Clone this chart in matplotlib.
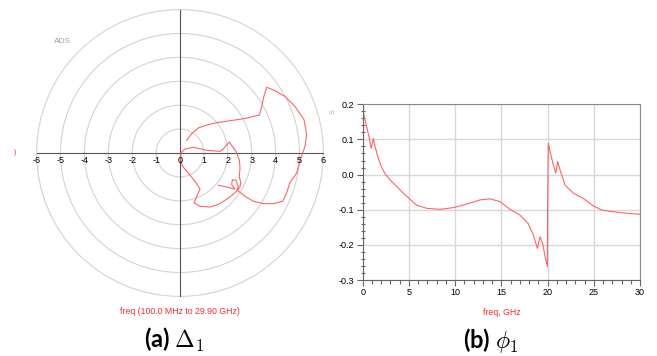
import matplotlib
matplotlib.use("Agg")
import matplotlib.pyplot as plt
from matplotlib.patches import Circle
import numpy as np

plt.rcParams['mathtext.fontset'] = 'cm'

# Delta_1 trace, real / imaginary parts (100 MHz .. 29.9 GHz)
delta_re = [0.28, 0.49, 0.77, 1.19, 1.60, 2.23, 2.79, 3.32, 3.42, 3.49, 3.63, 3.97,
            4.39, 4.81, 5.19, 5.30, 5.23, 5.06, 4.88, 4.60, 4.46, 4.30, 3.91, 3.49,
            3.07, 2.72, 2.40, 2.51, 2.54, 2.48, 2.51, 2.48, 2.34, 2.06, 1.81, 1.67,
            1.12, 0.56, 0.21, 0.03, 0.03, 0.11, 0.35, 0.63, 0.84, 0.70, 0.59, 0.84,
            1.26, 1.67, 2.09, 2.37, 2.44, 2.34, 2.19, 2.16, 2.30, 2.09, 1.81, 1.60]
delta_im = [0.53, 0.81, 1.05, 1.19, 1.28, 1.37, 1.46, 1.59, 1.95, 2.30, 2.75, 2.61,
            2.37, 1.95, 1.39, 0.77, 0.28, -0.21, -0.84, -1.23, -1.67, -2.02, -2.12, -2.12,
            -2.02, -1.81, -1.56, -1.42, -1.23, -0.98, -0.63, -0.28, 0.07, 0.46, 0.17, 0.07,
            0.11, 0.24, 0.17, 0.00, -0.28, -0.56, -0.84, -1.19, -1.51, -1.81, -2.09, -2.23,
            -2.26, -2.12, -1.84, -1.60, -1.39, -1.14, -1.12, -1.32, -1.51, -1.46, -1.39, -1.35]

# phi_1 vs frequency
freq = [0.1, 0.43, 0.72, 0.90, 1.0, 1.15, 1.33, 1.69, 2.05, 2.42, 2.96, 3.68, 4.40,
        5.05, 5.84, 6.92, 8.37, 9.81, 11.25, 12.69, 13.78, 14.86, 15.94, 17.0, 17.9,
        18.46, 18.9, 19.18, 19.47, 19.73, 19.98, 20.0, 20.08, 20.27, 20.63, 20.88,
        21.1, 21.35, 21.89, 22.79, 23.87, 24.95, 25.86, 27.12, 28.56, 30.0]
phi = [0.174, 0.136, 0.103, 0.075, 0.084, 0.103, 0.080, 0.046, 0.021, 0.002, -0.015,
       -0.034, -0.053, -0.069, -0.087, -0.096, -0.099, -0.094, -0.084, -0.072, -0.069,
       -0.077, -0.099, -0.115, -0.139, -0.172, -0.210, -0.177, -0.196, -0.234, -0.262,
       -0.091, 0.089, 0.065, 0.027, 0.004, 0.037, 0.013, -0.030, -0.053, -0.068,
       -0.089, -0.101, -0.106, -0.110, -0.113]

rings = [1, 2, 3, 4, 5, 6]
polar_ticks = list(range(-6, 7))

trace_red = '#ff6464'
label_red = '#ff2a2a'

fig = plt.figure(figsize=(6.57, 3.56), dpi=100)

# ---- polar style plot ----
ax1 = fig.add_axes([30 / 657, 53 / 356, 300 / 657, 300 / 356])
lim = 150 / 23.9
ax1.set_xlim(-lim, lim)
ax1.set_ylim(-lim, lim)
ax1.set_aspect('equal')
ax1.axis('off')
for r in rings:
    ax1.add_patch(Circle((0, 0), r, fill=False, ec='#d3d3d3', lw=0.8))
ax1.plot([-6, 6], [0, 0], color='#555555', lw=0.8)
ax1.plot([0, 0], [-6, 6], color='#555555', lw=0.8)
for t in polar_ticks:
    ax1.text(t, -0.12, str(t), ha='center', va='top', fontsize=6.5,
             family='Liberation Sans')
ax1.plot(delta_re, delta_im, color=trace_red, lw=0.8)
ax1.text(-4.9, 4.66, 'ADS', fontsize=6, color='#a0a0a0', family='Liberation Sans',
         ha='center', va='center')

fig.text(180 / 657, 1 - 311 / 356, 'freq (100.0 MHz to 29.90 GHz)', color=label_red,
         fontsize=6.3, family='Liberation Sans', ha='center', va='center')
fig.text(15 / 657, 1 - 153 / 356, ')', color=label_red, fontsize=5,
         family='Liberation Sans', ha='center', va='center')

# ---- phi_1 vs freq ----
ax2 = fig.add_axes([362.7 / 657, 76 / 356, 277.3 / 657, 175.7 / 356])
ax2.plot(freq, phi, color=trace_red, lw=0.8)
ax2.set_xlim(0, 30)
ax2.set_ylim(-0.3, 0.2)
ax2.set_xticks(np.arange(0, 31, 5))
ax2.set_xticks(np.arange(0, 31, 1), minor=True)
ax2.set_yticks(np.arange(-0.3, 0.21, 0.1))
ax2.set_yticks(np.arange(-0.3, 0.201, 0.02), minor=True)
ax2.set_yticklabels(['-0.3', '-0.2', '-0.1', '0.0', '0.1', '0.2'])
ax2.grid(True, which='major', color='#d8d8d8', lw=1)
ax2.tick_params(which='major', length=4, width=0.8, color='#666666', labelsize=6.5,
                pad=2)
ax2.tick_params(which='minor', length=3, width=0.8, color='#666666')
ax2.tick_params(axis='y', which='minor', direction='inout')
for lab in ax2.get_xticklabels() + ax2.get_yticklabels():
    lab.set_family('Liberation Sans')
for side in ['left', 'bottom']:
    ax2.spines[side].set_color('#666666')
for side in ['top', 'right']:
    ax2.spines[side].set_color('#8a8a8a')
ax2.set_xlabel('freq, GHz', color=label_red, fontsize=6.3, family='Liberation Sans',
               labelpad=8)
fig.text(333 / 657, 1 - 112 / 356, 'S', color='#b0b0b0', fontsize=5, rotation=90,
         family='Liberation Sans', ha='center', va='center')

# ---- captions ----
fig.text(174 / 657, 8 / 356, r'(a) $\Delta_1$', fontsize=17, fontweight='bold',
         family='Lato', ha='center', va='baseline')
fig.text(491 / 657, 8 / 356, r'(b) $\phi_1$', fontsize=17, fontweight='bold',
         family='Lato', ha='center', va='baseline')

fig.savefig('out.png', dpi=100)
